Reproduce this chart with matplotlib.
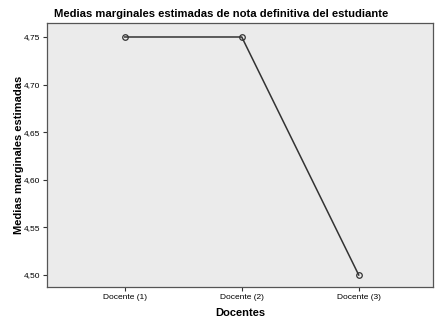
import matplotlib
matplotlib.use("Agg")
import matplotlib.pyplot as plt
from matplotlib.ticker import FixedLocator, FuncFormatter

categories = ["Docente (1)", "Docente (2)", "Docente (3)"]
means = [4.75, 4.75, 4.50]
yticks = [4.50, 4.55, 4.60, 4.65, 4.70, 4.75]

plt.rcParams['font.family'] = ['Liberation Sans', 'DejaVu Sans']

fig = plt.figure(figsize=(4.42, 3.26), dpi=100)
ax = fig.add_axes([47/442, 1-287/326, (433-47)/442, (287-23)/326])
ax.set_facecolor('#ebebeb')
x = list(range(len(categories)))
ax.plot(x, means, color='#333333', lw=1.1, marker='o', ms=4,
        mfc='none', mec='#333333', mew=0.9)
ax.set_xlim(-0.665, 2.635)
ax.set_ylim(4.4874, 4.7647)
ax.yaxis.set_major_locator(FixedLocator(yticks))
ax.yaxis.set_major_formatter(FuncFormatter(lambda v, p: f"{v:.2f}".replace('.', ',')))
ax.set_xticks(x)
ax.set_xticklabels(categories)
ax.tick_params(axis='both', labelsize=6, length=3, width=0.8, color='#333333', pad=2)
for s in ax.spines.values():
    s.set_color('#555555')
    s.set_linewidth(0.9)
ax.set_xlabel("Docentes", fontsize=8, fontweight='bold', labelpad=5)
ax.set_ylabel("Medias marginales estimadas", fontsize=8, fontweight='bold', labelpad=0)
fig.text(221/442, 1-14/326, "Medias marginales estimadas de nota definitiva del estudiante",
         ha='center', va='center', fontsize=8.1, fontweight='bold')
fig.savefig("out.png", dpi=100)
